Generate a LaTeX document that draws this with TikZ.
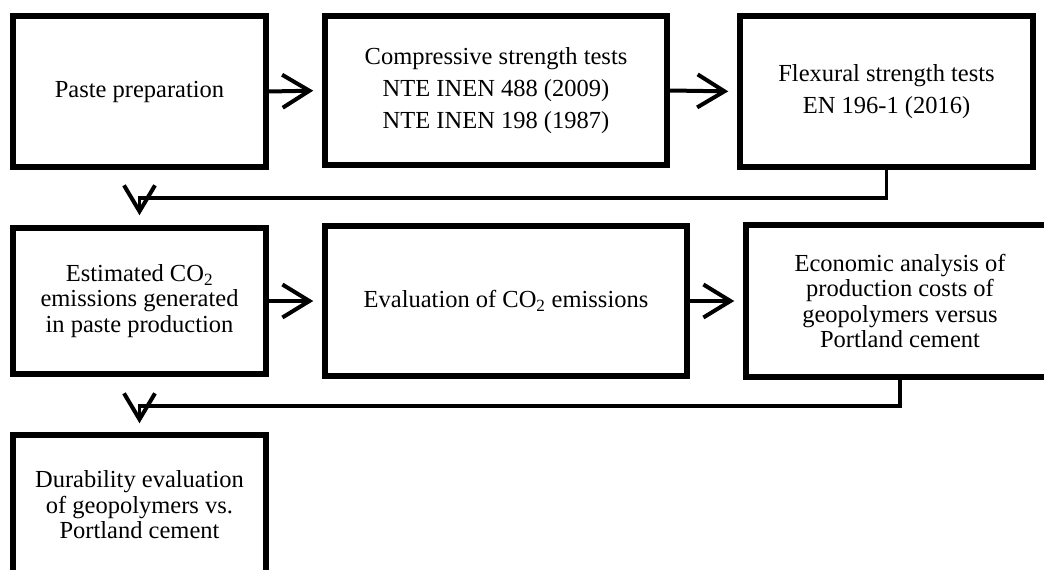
\documentclass[tikz,border=0pt]{standalone}
\usepackage{fontspec}
\setmainfont{Liberation Serif}
\usetikzlibrary{arrows.meta}
\begin{document}
\begin{tikzpicture}[x=1pt,y=-1pt,
  box/.style={draw=black,line width=5.5pt,rectangle,align=center,inner sep=0pt,
    font=\fontsize{24.5}{25.5}\selectfont},
  wide/.style={font=\fontsize{24.5}{32}\selectfont},
  flow/.style={line width=4pt,-{Straight Barb[length=27pt,width=33pt,line width=4pt]}},
  link/.style={line width=3.8pt,line join=miter,-{Straight Barb[length=26pt,width=31pt,line width=4pt]}}
]
\useasboundingbox (0,0) rectangle (1044,570);
\clip (0,0) rectangle (1044,570);
\node[box,minimum width=253pt,minimum height=151pt] (b1) at (139.5,91.5) {Paste preparation};
\node[box,wide,minimum width=342pt,minimum height=149pt] (b2) at (496,90.5) {Compressive strength tests\\NTE INEN 488 (2009)\\NTE INEN 198 (1987)};
\node[box,wide,minimum width=293pt,minimum height=151pt] (b3) at (886.5,91.5) {Flexural strength tests\\EN 196-1 (2016)};
\node[box,minimum width=253pt,minimum height=146pt] (b4) at (139.5,301) {Estimated CO\textsubscript{2}\\emissions generated\\in paste production};
\node[box,minimum width=362pt,minimum height=150pt] (b5) at (506,301) {Evaluation of CO\textsubscript{2} emissions};
\node[box,minimum width=308pt,minimum height=152pt] (b6) at (900,301) {Economic analysis of\\production costs of\\geopolymers versus\\Portland cement};
\node[box,minimum width=253pt,minimum height=140pt] (b7) at (139.5,505) {Durability evaluation\\of geopolymers vs.\\Portland cement};
\coordinate (m1) at (0,198);
\coordinate (m2) at (0,406);
\draw[flow,shorten >=9pt] (b1.east) -- (b2.west);
\draw[flow,shorten >=9pt] (b2.east) -- (b3.west);
\draw[flow,shorten >=9pt] (b4.east) -- (b5.west);
\draw[flow,shorten >=9pt] (b5.east) -- (b6.west);
\draw[link,shorten >=10pt] (b3.south) |- (b4.north |- m1) -- (b4.north);
\draw[link,shorten >=9pt] (b6.south) |- (b7.north |- m2) -- (b7.north);
\end{tikzpicture}
\end{document}
